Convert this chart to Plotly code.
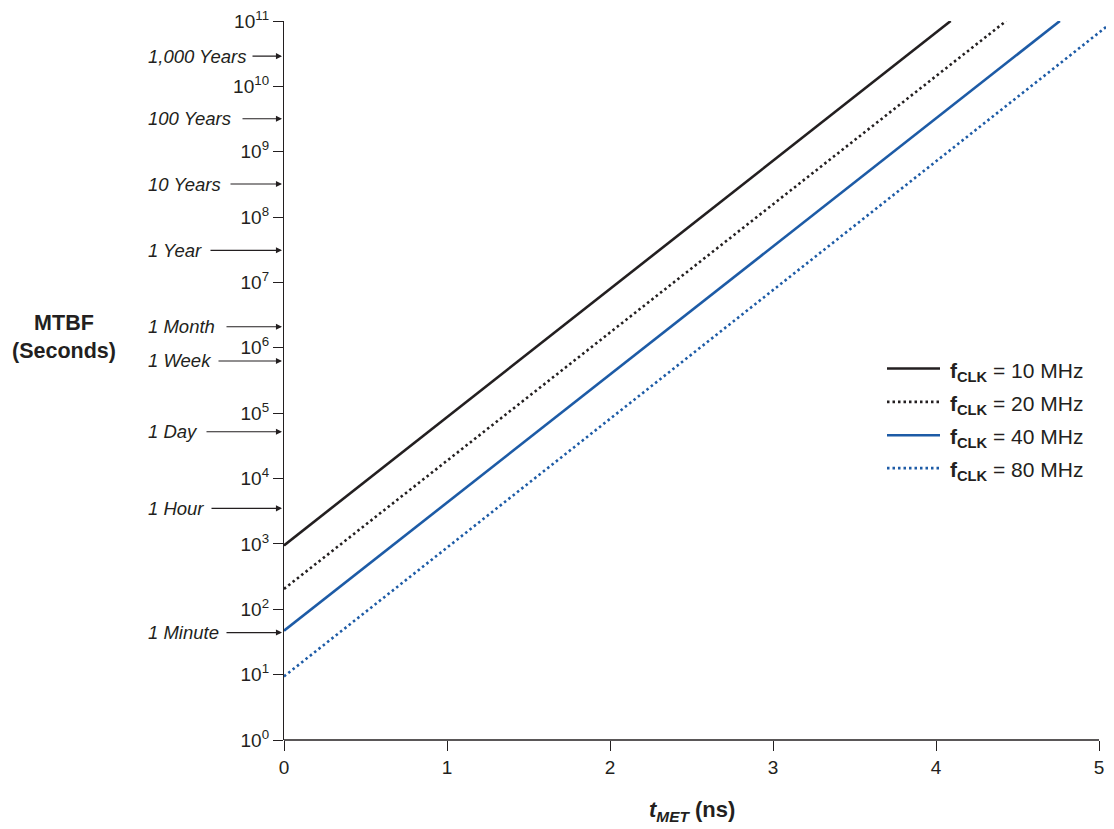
import math
import plotly.graph_objects as go

# ---------------- data ----------------
freq_labels = ["10 MHz", "20 MHz", "40 MHz", "80 MHz"]
t_met_start = [0, 0, 0, 0]                 # ns
t_met_end = [4.09, 4.43, 4.76, 5.09]       # ns
mtbf_start = [950, 205, 47, 9.4]           # seconds
mtbf_end = [1e11, 1e11, 1e11, 1e11]        # seconds

x_ticks = [0, 1, 2, 3, 4, 5]
y_exponents = list(range(0, 12))

time_labels = ["1,000 Years", "100 Years", "10 Years", "1 Year", "1 Month",
               "1 Week", "1 Day", "1 Hour", "1 Minute"]
time_marks_s = [2.9e10, 3.2e9, 3.2e8, 3.1e7, 2.1e6, 6.3e5, 5.2e4, 3.5e3, 44]

# ---------------- style ----------------
INK = "#231f20"
BLUE = "#1d5ba6"
line_colors = [INK, INK, BLUE, BLUE]
line_dashes = ["solid", "2.5px,3px", "solid", "2.5px,3px"]
arrow_len_px = [31, 41, 53, 73, 57, 65, 77, 72, 57]
FONT = "Liberation Sans, Arial, Helvetica, sans-serif"

OFF = 8  # page body margin
W, H = 1114 - OFF, 829 - OFF
ML, MR, MT = 284 - OFF, 0, 18 - OFF
MB = H - (740 - OFF)
PW, PH = W - ML - MR, H - MT - MB
X_MAX = 5 * PW / (1099 - 284)


def px_x(p):
    return (p - OFF - ML) / PW


def px_y(p):
    return (H - MB - (p - OFF)) / PH


fig = go.Figure()

for i, lab in enumerate(freq_labels):
    fig.add_trace(go.Scatter(
        x=[t_met_start[i], t_met_end[i]],
        y=[mtbf_start[i], mtbf_end[i]],
        mode="lines",
        name=lab,
        line=dict(color=line_colors[i], width=2.6, dash=line_dashes[i]),
        showlegend=False,
    ))

annotations = []
shapes = []

# x-axis line (only from 0 to 5)
shapes.append(dict(type="line", xref="x", yref="paper", x0=0, x1=5, y0=0, y1=0,
                   line=dict(color=INK, width=1.3)))

# time reference labels with arrows
for lab, val, alen in zip(time_labels, time_marks_s, arrow_len_px):
    yv = math.log10(val)
    annotations.append(dict(
        xref="paper", yref="y", x=px_x(146), y=yv, text=lab,
        showarrow=False, xanchor="left", yanchor="middle",
        font=dict(family=FONT, size=18.5, color=INK, style="italic"),
    ))
    annotations.append(dict(
        xref="x", yref="y", x=0, y=yv, text="", showarrow=True,
        ax=-alen - 2, ay=0, axref="pixel", ayref="pixel",
        arrowhead=2, arrowsize=1.1, arrowwidth=1.1, arrowcolor=INK, standoff=2,
    ))

# y-axis title
annotations.append(dict(
    xref="paper", yref="paper", x=px_x(64), y=px_y(335),
    text="<b>MTBF</b><br><b>(Seconds)</b>", showarrow=False,
    xanchor="center", yanchor="middle", align="center",
    font=dict(family=FONT, size=21.5, color=INK),
))

# x-axis title
annotations.append(dict(
    xref="x", yref="paper", x=2.5, y=px_y(811),
    text="<b><i>t<sub>MET</sub></i> (ns)</b>", showarrow=False,
    xanchor="center", yanchor="middle",
    font=dict(family=FONT, size=22, color=INK),
))

# manual legend
leg_rows = [367, 400.5, 434, 467]
for i, lab in enumerate(freq_labels):
    yy = px_y(leg_rows[i])
    shapes.append(dict(type="line", xref="paper", yref="paper",
                       x0=px_x(887), x1=px_x(940), y0=yy, y1=yy,
                       line=dict(color=line_colors[i], width=2.6, dash=line_dashes[i])))
    annotations.append(dict(
        xref="paper", yref="paper", x=px_x(948), y=px_y(leg_rows[i] + 3),
        text="<b>f<sub>CLK</sub></b> = " + lab, showarrow=False,
        xanchor="left", yanchor="middle",
        font=dict(family=FONT, size=21, color=INK),
    ))

fig.update_layout(
    width=W, height=H,
    margin=dict(l=ML, r=MR, t=MT, b=MB, pad=0),
    paper_bgcolor="white", plot_bgcolor="white",
    font=dict(family=FONT, color=INK),
    xaxis=dict(
        range=[0, X_MAX], tickvals=x_ticks, ticktext=[str(v) for v in x_ticks],
        ticks="outside", ticklen=10, tickwidth=1.3, tickcolor=INK,
        showgrid=False, zeroline=False, showline=False,
        tickfont=dict(family=FONT, size=19, color=INK),
        ticklabeloverflow="allow",
    ),
    yaxis=dict(
        type="log", range=[0, 11],
        tickvals=[10 ** e for e in y_exponents],
        ticktext=["10<sup>%d</sup>" % e for e in y_exponents],
        ticks="outside", ticklen=10, tickwidth=1.3, tickcolor=INK,
        showgrid=False, zeroline=False, showline=True, linecolor=INK, linewidth=1.3,
        tickfont=dict(family=FONT, size=19, color=INK),
        ticklabeloverflow="allow",
    ),
    annotations=annotations,
    shapes=shapes,
)

fig.write_html("out.html")
